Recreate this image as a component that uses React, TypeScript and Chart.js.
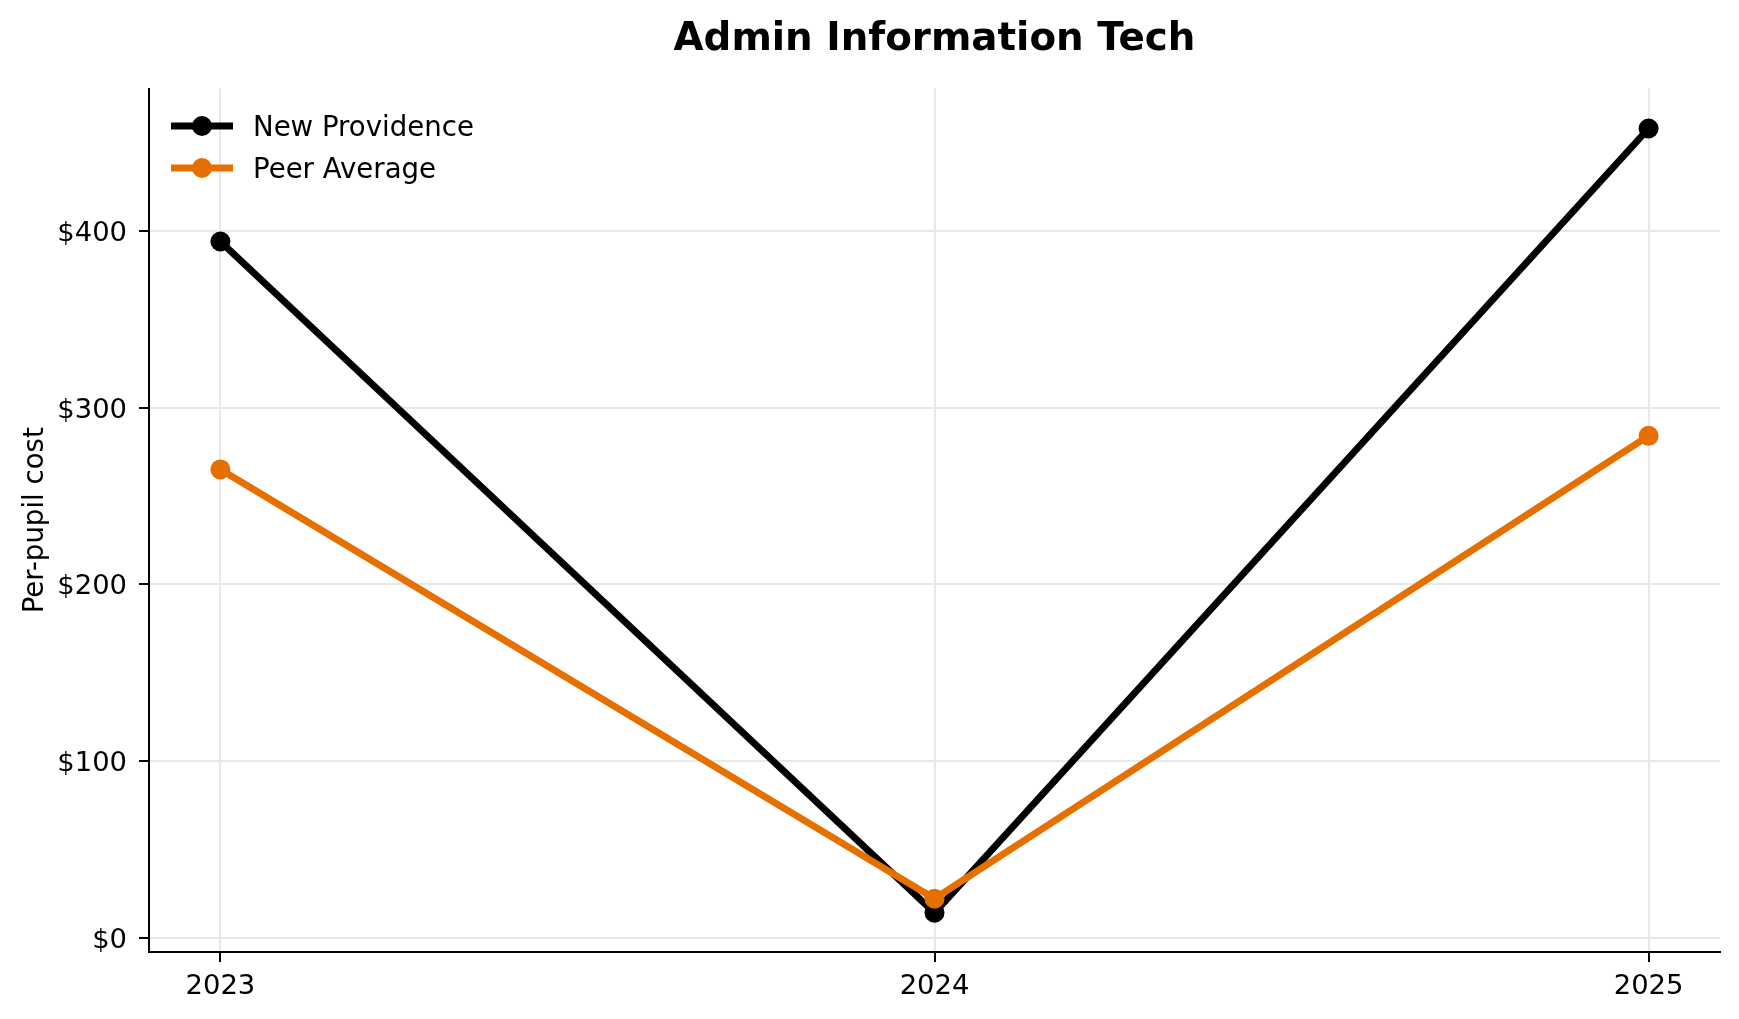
import React, { useEffect, useRef } from "react";
import { Chart, registerables } from "chart.js";

Chart.register(...registerables);

const years = [2023, 2024, 2025];
const newProvidence = [394, 14, 458];
const peerAverage = [265, 22, 284];
const yTickValues = [0, 100, 200, 300, 400];
const seriesNames = ["New Providence", "Peer Average"];
const seriesColors = ["#000000", "#E57000"];

const FONT = "'DejaVu Sans', sans-serif";

const legendPlugin = {
  id: "customLegend",
  afterDraw(chart: any) {
    const ctx = chart.ctx;
    ctx.save();
    const rows = [126, 168];
    seriesNames.forEach((name, i) => {
      const y = rows[i];
      ctx.strokeStyle = seriesColors[i];
      ctx.lineWidth = 7;
      ctx.lineCap = "butt";
      ctx.beginPath();
      ctx.moveTo(171, y);
      ctx.lineTo(233, y);
      ctx.stroke();
      ctx.fillStyle = seriesColors[i];
      ctx.beginPath();
      ctx.arc(202, y, 10, 0, Math.PI * 2);
      ctx.fill();
      ctx.fillStyle = "#000";
      ctx.font = `27.6px ${FONT}`;
      ctx.textBaseline = "alphabetic";
      ctx.textAlign = "left";
      ctx.fillText(name, 253, y + 10);
    });
    ctx.restore();
  },
};

export default function App() {
  const ref = useRef<HTMLCanvasElement>(null);
  useEffect(() => {
    document.body.style.margin = "0";
    document.body.style.overflow = "hidden";
    const canvas = ref.current!;
    const chart = new Chart(canvas, {
      type: "line",
      data: {
        datasets: [
          {
            label: seriesNames[0],
            data: years.map((x, i) => ({ x, y: newProvidence[i] })),
            borderColor: seriesColors[0],
            backgroundColor: seriesColors[0],
            pointBackgroundColor: seriesColors[0],
            borderWidth: 7,
            pointRadius: 10,
            pointBorderWidth: 0,
            tension: 0,
            order: 1,
            clip: false as any,
          },
          {
            label: seriesNames[1],
            data: years.map((x, i) => ({ x, y: peerAverage[i] })),
            borderColor: seriesColors[1],
            backgroundColor: seriesColors[1],
            pointBackgroundColor: seriesColors[1],
            borderWidth: 7,
            pointRadius: 10,
            pointBorderWidth: 0,
            tension: 0,
            order: 0,
            clip: false as any,
          },
        ],
      },
      options: {
        animation: false,
        responsive: false,
        devicePixelRatio: 1,
        layout: { padding: { left: 0, right: 19, top: 0, bottom: 0 } },
        plugins: {
          legend: { display: false },
          tooltip: { enabled: false },
          title: {
            display: true,
            text: "Admin Information Tech",
            fullSize: false,
            color: "#000",
            font: { family: FONT, size: 38.8, weight: "bold" },
            padding: { top: 17, bottom: 25 },
          },
        },
        scales: {
          x: {
            type: "linear",
            min: 2022.9,
            max: 2025.1,
            afterBuildTicks: (scale: any) => {
              scale.ticks = years.map((v) => ({ value: v }));
            },
            afterFit: (scale: any) => {
              scale.height = 67;
            },
            ticks: {
              color: "#000",
              font: { family: FONT, size: 27.4 },
              padding: 8,
              callback: (v: any) => String(v),
              maxRotation: 0,
              autoSkip: false,
            },
            grid: {
              color: "#e8e8e8",
              lineWidth: 2,
              tickColor: "#000",
              tickLength: 10,
              tickWidth: 2,
            },
            border: { display: true, color: "#000", width: 2 },
          },
          y: {
            type: "linear",
            min: -8.2,
            max: 480.6,
            afterBuildTicks: (scale: any) => {
              scale.ticks = yTickValues.map((v) => ({ value: v }));
            },
            afterFit: (scale: any) => {
              scale.width = 149;
            },
            ticks: {
              color: "#000",
              font: { family: FONT, size: 27.4 },
              padding: 12,
              labelOffset: 3,
              callback: (v: any) => `$${v}`,
              autoSkip: false,
            },
            grid: {
              color: "#e8e8e8",
              lineWidth: 2,
              tickColor: "#000",
              tickLength: 10,
              tickWidth: 2,
            },
            border: { display: true, color: "#000", width: 2 },
            title: {
              display: true,
              text: "Per-pupil cost",
              color: "#000",
              font: { family: FONT, size: 27.6 },
              padding: { top: 19, bottom: 0 },
            },
          },
        },
      },
      plugins: [legendPlugin],
    });
    return () => chart.destroy();
  }, []);
  return (
    <div style={{ width: 1739, height: 1019, background: "#fff" }}>
      <canvas ref={ref} width={1739} height={1019} style={{ display: "block" }} />
    </div>
  );
}
